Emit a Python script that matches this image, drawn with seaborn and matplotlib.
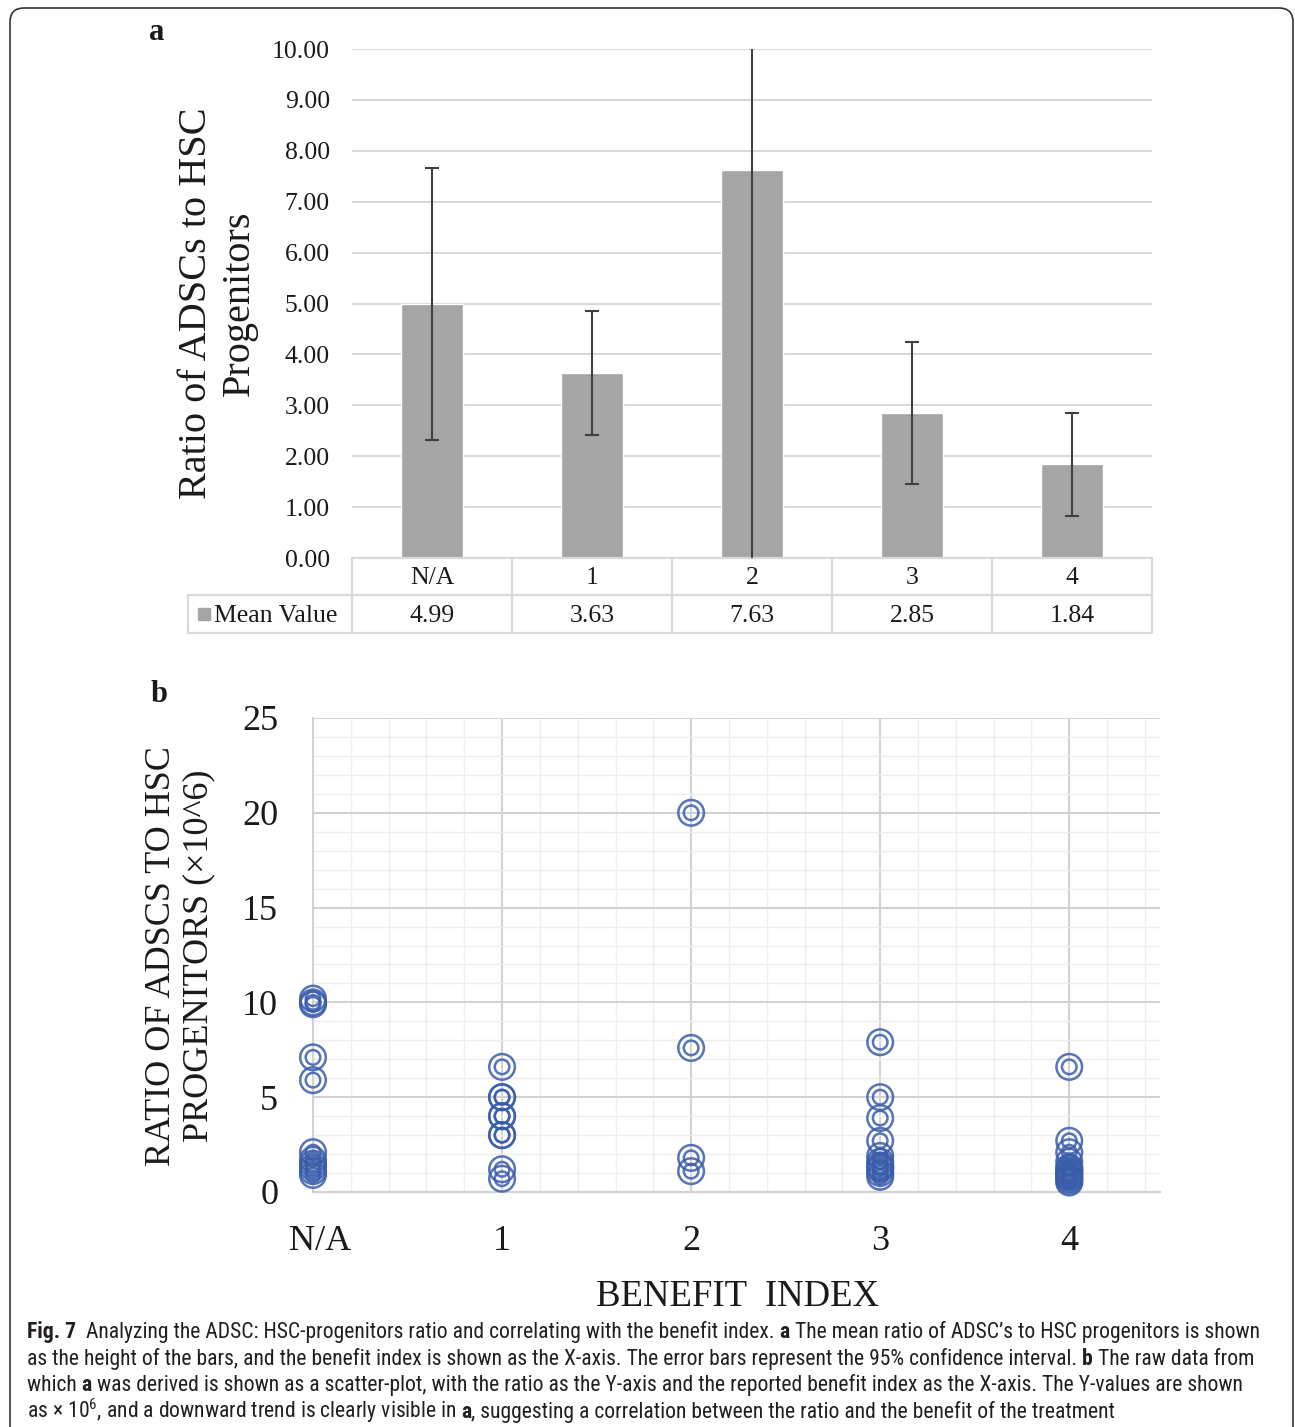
import numpy as np
import pandas as pd
import matplotlib
matplotlib.use("Agg")
import matplotlib.pyplot as plt
from matplotlib import font_manager as fm
from matplotlib.patches import FancyBboxPatch
from matplotlib.transforms import (blended_transform_factory, IdentityTransform,
                                   ScaledTranslation)
from matplotlib.ticker import MultipleLocator
import seaborn as sns

# --------------------------------------------------
# Data
# --------------------------------------------------
categories = ["N/A", "1", "2", "3", "4"]
mean_values = [4.99, 3.63, 7.63, 2.85, 1.84]
ci_half = [2.68, 1.22, 7.90, 1.40, 1.01]

# raw ratios (x10^6) per benefit index
ratio_na = [10.2, 10.0, 9.9, 7.1, 5.9, 2.1, 1.7, 1.5, 1.3, 1.1, 0.9]
ratio_1 = [6.6, 5.0, 5.0, 4.0, 4.0, 3.0, 3.0, 1.2, 0.7]
ratio_2 = [20.0, 7.6, 1.8, 1.1]
ratio_3 = [7.9, 5.0, 3.9, 2.7, 1.9, 1.6, 1.4, 1.3, 1.2, 1.0, 0.8]
ratio_4 = [6.6, 2.7, 2.1, 1.6, 1.3, 1.2, 1.1, 1.0, 0.9, 0.8, 0.7, 0.6, 0.5]

raw = pd.DataFrame({
    "benefit": (["N/A"] * len(ratio_na) + ["1"] * len(ratio_1)
                + ["2"] * len(ratio_2) + ["3"] * len(ratio_3)
                + ["4"] * len(ratio_4)),
    "ratio": ratio_na + ratio_1 + ratio_2 + ratio_3 + ratio_4,
})
raw["pos"] = raw["benefit"].map({c: i for i, c in enumerate(categories)})

# --------------------------------------------------
# Style
# --------------------------------------------------
sns.set_style("white")
plt.rcParams["font.family"] = ["Liberation Serif", "DejaVu Serif"]

W, H = 1295, 1427
BAR_GREY = "#A5A5A5"
GRID = "#D9D9D9"
BLUE = "#3A5DAA"
TXT = "#1A1A1A"


def rect(l, t, r, b):
    return [l / W, 1 - b / H, (r - l) / W, (b - t) / H]


# pick a narrow sans font for the caption if one is installed
def caption_font():
    prefs = ["Liberation Sans Narrow", "Roboto Condensed", "Open Sans Condensed",
             "Noto Sans", "DejaVu Sans", "Open Sans", "Roboto"]
    narrow = [f for f in fm.fontManager.ttflist
              if f.stretch in ("condensed", "semi-condensed", "extra-condensed")
              or "Narrow" in f.name or "Condensed" in f.name]
    for p in prefs:
        for f in narrow:
            if f.name == p:
                return p, f.stretch
    return "DejaVu Sans", "normal"


CAP_FAMILY, CAP_STRETCH = caption_font()
plt.rcParams["mathtext.fontset"] = "custom"
plt.rcParams["mathtext.rm"] = CAP_FAMILY

fig = plt.figure(figsize=(W / 100, H / 100), dpi=100)

# rounded frame around the whole figure
fig.add_artist(FancyBboxPatch(
    (10, -40), 1283, H - 8 + 40,
    boxstyle="round,pad=0,rounding_size=14",
    transform=IdentityTransform(), fill=False, ec="#333333", lw=1.2
))

# --------------------------------------------------
# Panel a: mean bars with CI + data table
# --------------------------------------------------
ax_a = fig.add_axes(rect(352, 49, 1152, 558))
sns.barplot(x=categories, y=mean_values, order=categories, color=BAR_GREY,
            width=0.39, saturation=1, errorbar=None, ax=ax_a, zorder=2)
ax_a.errorbar(np.arange(len(categories)), mean_values, yerr=ci_half,
              fmt="none", ecolor="#404040", elinewidth=1.5, capsize=5,
              capthick=1.5, zorder=3)
ax_a.set_ylim(0, 10)
ax_a.set_xlim(-0.5, 4.5)
ax_a.yaxis.set_major_locator(MultipleLocator(1))
ax_a.yaxis.set_major_formatter(lambda v, p: f"{v:.2f}")
ax_a.grid(axis="y", color=GRID, lw=1.5, zorder=0)
ax_a.set_axisbelow(True)
for s in ax_a.spines.values():
    s.set_visible(False)
ax_a.tick_params(axis="x", length=0, labelbottom=False)
ax_a.tick_params(axis="y", length=0, pad=16, labelsize=18.5, labelcolor=TXT)
ax_a.set_xlabel("")
ax_a.set_ylabel("")

# data table under the bars
trans = blended_transform_factory(ax_a.transData, ax_a.transAxes)
r1 = 37 / 509
r2 = 75 / 509
x_left = -0.5 - 164 / 160
line_kw = dict(color=GRID, lw=1.6, transform=trans, clip_on=False)
ax_a.plot([-0.5, 4.5], [0, 0], **line_kw)
ax_a.plot([x_left, 4.5], [-r1, -r1], **line_kw)
ax_a.plot([x_left, 4.5], [-r2, -r2], **line_kw)
for i in range(len(categories) + 1):
    ax_a.plot([i - 0.5, i - 0.5], [0, -r2], **line_kw)
ax_a.plot([x_left, x_left], [-r1, -r2], **line_kw)
for i, (c, v) in enumerate(zip(categories, mean_values)):
    ax_a.text(i, -r1 / 2 - 0.003, c, transform=trans, ha="center", va="center",
              fontsize=18.5, color=TXT, clip_on=False)
    ax_a.text(i, -(r1 + r2) / 2 - 0.003, f"{v:.2f}", transform=trans,
              ha="center", va="center", fontsize=18.5, color=TXT, clip_on=False)
ax_a.plot([-1.425], [-(r1 + r2) / 2], marker="s", ms=9, color=BAR_GREY,
          transform=trans, clip_on=False, ls="none")
ax_a.text(-1.36, -(r1 + r2) / 2 - 0.003, "Mean Value", transform=trans,
          ha="left", va="center", fontsize=18.5, color=TXT, clip_on=False)

fig.text(218 / W, 1 - 303 / H, "Ratio of ADSCs to HSC\nProgenitors",
         rotation=90, ha="center", va="center", fontsize=29, color=TXT,
         multialignment="center", linespacing=1.2)
fig.text(157 / W, 1 - 32 / H, "a", ha="center", va="center", fontsize=22,
         fontweight="bold", color=TXT)

# --------------------------------------------------
# Panel b: raw data scatter (double-ring markers)
# --------------------------------------------------
ax_b = fig.add_axes(rect(313, 718, 1160, 1192))
for size in (340, 110):
    sns.scatterplot(data=raw, x="pos", y="ratio", s=size, color=BLUE,
                    facecolor="none", edgecolor=BLUE, linewidth=1.8, alpha=0.85,
                    ax=ax_b, clip_on=False, zorder=3, legend=False)
ax_b.set_xlim(0, 4.48)
ax_b.set_ylim(0, 25)
ax_b.xaxis.set_major_locator(MultipleLocator(1))
ax_b.xaxis.set_minor_locator(MultipleLocator(0.2))
ax_b.yaxis.set_major_locator(MultipleLocator(5))
ax_b.yaxis.set_minor_locator(MultipleLocator(1))
ax_b.set_xticks(range(len(categories)))
ax_b.set_xticklabels(categories)
ax_b.grid(which="major", color="#D2D2D2", lw=1.5)
ax_b.grid(which="minor", color="#EEEEEE", lw=1.0)
ax_b.set_axisbelow(True)
for k in ["top", "right"]:
    ax_b.spines[k].set_visible(False)
for k in ["left", "bottom"]:
    ax_b.spines[k].set_color("#D2D2D2")
    ax_b.spines[k].set_linewidth(1.5)
ax_b.tick_params(which="both", length=0)
ax_b.tick_params(axis="x", pad=24, labelsize=26, labelcolor=TXT)
ax_b.tick_params(axis="y", pad=25, labelsize=26, labelcolor=TXT)
ax_b.set_xlabel("")
ax_b.set_ylabel("")
na_label = ax_b.get_xticklabels()[0]
na_label.set_transform(na_label.get_transform()
                       + ScaledTranslation(0.07, 0, fig.dpi_scale_trans))

fig.text(737 / W, 1 - 1297 / H, "BENEFIT  INDEX", ha="center", va="center",
         fontsize=26.5, color=TXT)
fig.text(180 / W, 1 - 956 / H, "RATIO OF ADSCS TO HSC\nPROGENITORS (×10^6)",
         rotation=90, ha="center", va="center", fontsize=26, color=TXT,
         multialignment="center", linespacing=1.2)
fig.text(159 / W, 1 - 695 / H, "b", ha="center", va="center", fontsize=22,
         fontweight="bold", color=TXT)

# --------------------------------------------------
# Caption
# --------------------------------------------------
CAP_COLOR = "#231F20"
caption = [
    [("Fig. 7", True),
     ("  Analyzing the ADSC: HSC-progenitors ratio and correlating with the benefit index. ", False),
     ("a", True),
     (" The mean ratio of ADSC\u2019s to HSC progenitors is shown", False)],
    [("as the height of the bars, and the benefit index is shown as the X-axis. "
      "The error bars represent the 95% confidence interval. ", False),
     ("b", True), (" The raw data from", False)],
    [("which ", False), ("a", True),
     (" was derived is shown as a scatter-plot, with the ratio as the Y-axis and "
      "the reported benefit index as the X-axis. The Y-values are shown", False)],
    [("as \u00d7 10$^{6}$, and a downward trend is clearly visible in ", False),
     ("a", True),
     (", suggesting a correlation between the ratio and the benefit of the treatment", False)],
]
baselines = [1338, 1365, 1391, 1418]

renderer = fig.canvas.get_renderer()


def cap_kw(size, bold):
    return dict(fontsize=size, family=[CAP_FAMILY, "DejaVu Sans"],
                fontstretch=CAP_STRETCH,
                fontweight="bold" if bold else "normal")


def run_width(s, size, bold):
    t = fig.text(0, 0, "|" + s + "|", **cap_kw(size, bold))
    w = t.get_window_extent(renderer).width
    t.remove()
    t = fig.text(0, 0, "||", **cap_kw(size, bold))
    wb = t.get_window_extent(renderer).width
    t.remove()
    return w - wb


base = 10.0
w1 = sum(run_width(s, base, b) for s, b in caption[0])
cap_size = base * (1258 - 27) / w1

for line, yb in zip(caption, baselines):
    x = 27.0
    for s, b in line:
        fig.text(x / W, 1 - yb / H, s, color=CAP_COLOR, ha="left",
                 va="baseline", **cap_kw(cap_size, b))
        x += run_width(s, cap_size, b)

fig.savefig("out.png", dpi=100)
